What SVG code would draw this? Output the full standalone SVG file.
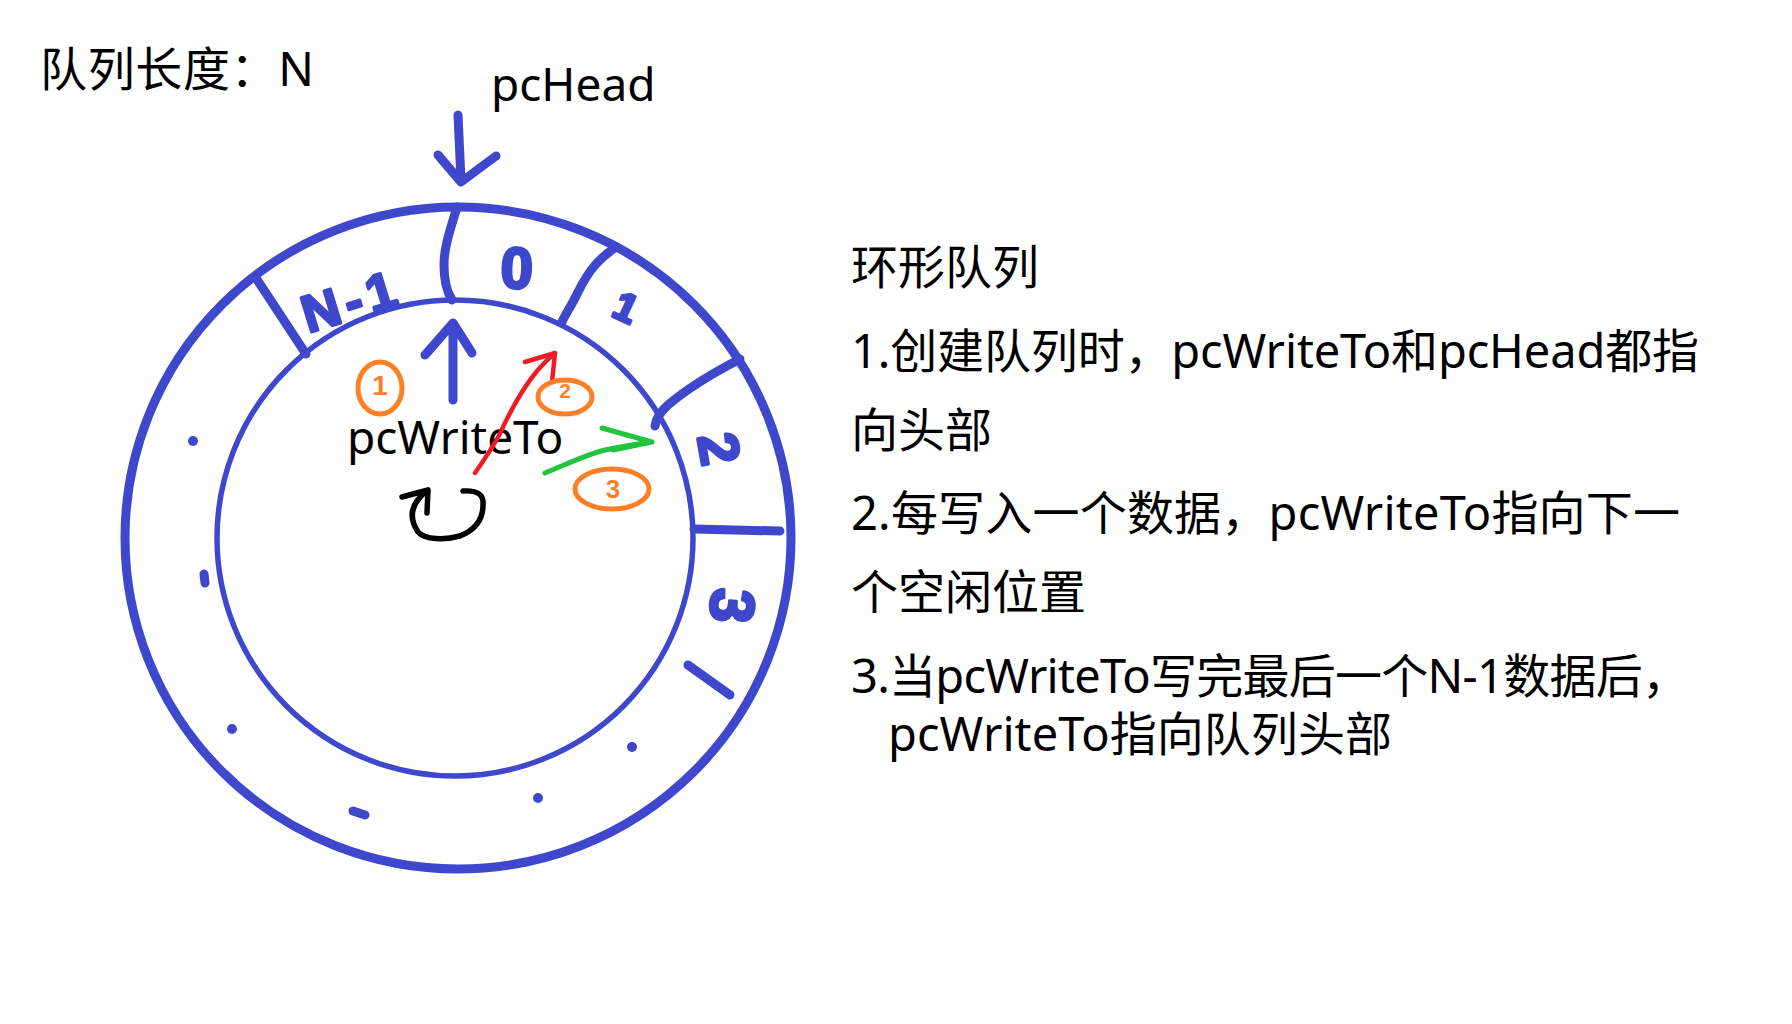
<svg xmlns="http://www.w3.org/2000/svg" width="1792" height="1024" viewBox="0 0 1792 1024">
<style>
.t{font-family:"Noto Sans","Noto Sans CJK SC",sans-serif;font-size:47px;fill:#000}
.lbl{font-family:"Noto Sans","Noto Sans CJK SC",sans-serif;font-size:46px;fill:#000}
.ink{fill:none;stroke:#3F48CC;stroke-linecap:round;stroke-linejoin:round}
.hand{font-family:"Liberation Sans",Arial,sans-serif;font-weight:bold;fill:#3F48CC;stroke:#3F48CC;stroke-width:3;stroke-linejoin:round;text-anchor:middle}
.orn{fill:none;stroke:#FF7F27;stroke-width:5;stroke-linecap:round}
.ornt{font-family:"Liberation Sans",Arial,sans-serif;font-weight:bold;fill:#FF7F27;text-anchor:middle}
.dot{fill:#3F48CC}
</style>
<rect width="1792" height="1024" fill="#fff"/>

<g id="title"><text class="t" x="40" y="86" textLength="274" lengthAdjust="spacing">队列长度：N</text></g>

<g id="ring">
  <ellipse cx="458" cy="538" rx="333" ry="331" class="ink" stroke-width="9"/>
  <circle cx="455" cy="538" r="238" class="ink" stroke-width="5.5"/>
</g>

<g id="dividers">
  <path class="ink" stroke-width="9" d="M457,207 C452,225 444,245 444,265 C444,280 447,292 452,300"/>
  <path class="ink" stroke-width="9" d="M256,278 L306,354"/>
  <path class="ink" stroke-width="9" d="M616,247 C600,258 590,268 578,292 C572,305 566,313 562,322"/>
  <path class="ink" stroke-width="9" d="M740,359 C715,372 690,386 668,405 C660,412 656,418 655,426"/>
  <path class="ink" stroke-width="9" d="M694,529 L780,531"/>
  <path class="ink" stroke-width="9" d="M688,665 L730,695"/>
</g>

<g id="cell-labels">
  <text class="hand" font-size="52" letter-spacing="6" transform="translate(357,318) rotate(-17)">N-1</text>
  <text class="hand" font-size="58" transform="translate(516,288) rotate(2)">0</text>
  <text class="hand" font-size="40" transform="translate(620,320) rotate(25)">1</text>
  <text class="hand" font-size="56" transform="translate(700,452) rotate(80)">2</text>
  <text class="hand" font-size="62" transform="translate(711,604) rotate(95)">3</text>
</g>

<g id="dots">
  <circle class="dot" cx="193" cy="441" r="5"/>
  <path class="ink" stroke-width="9" d="M204,574 L205,583"/>
  <circle class="dot" cx="232" cy="729" r="5"/>
  <path class="ink" stroke-width="9" d="M353,811 L365,815"/>
  <circle class="dot" cx="538" cy="798" r="5"/>
  <circle class="dot" cx="632" cy="747" r="5"/>
</g>

<g id="pcHead">
  <text class="lbl" x="491" y="101">pcHead</text>
</g>

<g id="pcWriteTo">
  <text class="lbl" x="347" y="454">pcWriteTo</text>
</g>

<g id="connectors">
  <path class="ink" stroke-width="9" d="M458,115 C459,140 460,160 461,180 M438,155 L461,182 L496,156"/>
  <path class="ink" stroke-width="9" d="M453,400 L453,326 M425,355 L453,323 L472,353"/>
  <path fill="none" stroke="#ED1C24" stroke-width="4.5" stroke-linecap="round" stroke-linejoin="round" d="M475,473 C485,458 497,442 503,427 C512,408 523,388 537,371 C545,362 550,357 555,353 M525,362 L555,353 L552,382"/>
  <path fill="none" stroke="#22C43D" stroke-width="5" stroke-linecap="round" stroke-linejoin="round" d="M545,473 C565,465 585,455 605,450 C620,447 635,444 652,442 M602,428 L652,442 L613,450"/>
  <path fill="none" stroke="#000" stroke-width="5.5" stroke-linecap="round" stroke-linejoin="round" d="M463,491 C478,490 484,495 483,505 C483,520 475,530 460,536 C445,540 425,540 418,532 C410,520 408,505 428,490 M402,497 L428,490 L427,513"/>
</g>

<g id="step-marks">
  <ellipse class="orn" cx="380" cy="388" rx="22" ry="26"/>
  <text class="ornt" x="380" y="395" font-size="28">1</text>
  <ellipse class="orn" cx="565" cy="397" rx="27" ry="17"/>
  <text class="ornt" x="565" y="398" font-size="21">2</text>
  <ellipse class="orn" cx="612" cy="489" rx="37" ry="20"/>
  <text class="ornt" x="613" y="498" font-size="26">3</text>
</g>

<g id="notes">
  <text class="t" x="851" y="284">环形队列</text>
  <text class="t" x="851" y="368" textLength="848" lengthAdjust="spacing">1.创建队列时，pcWriteTo和pcHead都指</text>
  <text class="t" x="851" y="447">向头部</text>
  <text class="t" x="851" y="530" textLength="829" lengthAdjust="spacing">2.每写入一个数据，pcWriteTo指向下一</text>
  <text class="t" x="851" y="609">个空闲位置</text>
  <text class="t" x="851" y="693" textLength="838" lengthAdjust="spacing">3.当pcWriteTo写完最后一个N-1数据后，</text>
  <text class="t" x="888" y="751" textLength="504" lengthAdjust="spacing">pcWriteTo指向队列头部</text>
</g>
</svg>
